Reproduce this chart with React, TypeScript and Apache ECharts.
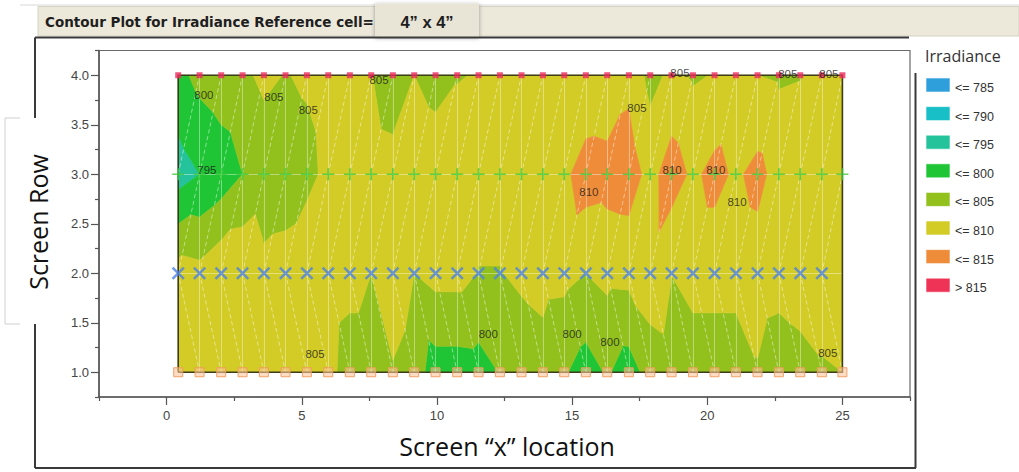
import React, { useEffect, useRef } from "react";
import * as echarts from "echarts";

// ---------- data ----------
const xPositions = [
  0.43, 1.22, 2.02, 2.81, 3.6, 4.4, 5.19, 5.98, 6.78, 7.57, 8.37, 9.16, 9.95, 10.75, 11.54, 12.33,
  13.13, 13.92, 14.71, 15.51, 16.3, 17.1, 17.89, 18.68, 19.47, 20.27, 21.06, 21.86, 22.65, 23.44, 24.24, 25.0,
];
const rowY = [1, 2, 3, 4];
// irradiance at screen row 1 (bottom) .. row 4 (top)
const row1Values = [
  807.5, 807, 808, 808, 808, 808, 807, 807, 802, 802, 804.5, 802.4, 797.6, 797.6, 797.9, 800.2,
  802, 803, 800.5, 797.8, 800.5, 797.7, 802, 803, 802, 802, 802, 804.6, 802, 803, 804.4, 805,
];
const row2Values = [
  807.2, 806.5, 809, 809.4, 806.3, 806.5, 809, 808, 807, 805, 808.5, 805, 806.7, 806.7, 804.8, 804.8,
  805.9, 806.6, 806.4, 805, 806.3, 806.5, 808.2, 805.1, 807, 807, 807, 807.5, 807, 807.8, 808, 808,
];
const row3Values = [
  792.7, 795, 797, 800, 802, 803, 803.5, 806.3, 807.5, 807.5, 807, 807.5, 807, 807, 807.5, 807.5,
  808, 808, 808.9, 812.5, 812, 812.5, 808.3, 812.5, 809, 811.5, 809.2, 811.5, 808, 808, 808, 808,
];
const row4Values = [
  798.5, 801.5, 803, 804, 806, 804.8, 805.6, 807, 807, 805.2, 802, 805, 803.8, 804.8, 805.2, 807,
  807, 807, 807, 805.5, 806, 808.7, 803.5, 806, 804.5, 805.2, 806.5, 805, 804.5, 804.8, 806, 805.2,
];
const rowValues = [row1Values, row2Values, row3Values, row4Values];
const row2MarkerCount = 31; // the X markers stop before the last column

const thresholds = [785, 790, 795, 800, 805, 810, 815];
const bandColors = ["#2F9FDC", "#19BFC7", "#25C39B", "#20C535", "#92C11E", "#D3CC27", "#EE8C39", "#EE3356"];
const bandLabels = ["<= 785", "<= 790", "<= 795", "<= 800", "<= 805", "<= 810", "<= 815", "> 815"];

const contourLabels: [number, number, string][] = [
  [1.38, 3.8, "800"],
  [3.97, 3.78, "805"],
  [5.24, 3.65, "805"],
  [7.86, 3.95, "805"],
  [1.49, 3.04, "795"],
  [17.4, 3.67, "805"],
  [18.99, 4.02, "805"],
  [22.98, 4.01, "805"],
  [24.5, 4.01, "805"],
  [18.7, 3.04, "810"],
  [20.32, 3.04, "810"],
  [15.62, 2.82, "810"],
  [21.1, 2.72, "810"],
  [11.9, 1.39, "800"],
  [15.0, 1.39, "800"],
  [16.4, 1.31, "800"],
  [5.49, 1.18, "805"],
  [24.46, 1.19, "805"],
];

const xTickValues = [0, 5, 10, 15, 20, 25];
const xMinorTicks = [-2.5, 2.5, 7.5, 12.5, 17.5, 22.5, 27.5];
const yTickValues = [1, 1.5, 2, 2.5, 3, 3.5, 4];
const yMinorTicks = [0.75, 1.25, 1.75, 2.25, 2.75, 3.25, 3.75, 4.25];

// ---------- contour geometry (marching triangles, linear interpolation) ----------
type P = [number, number, number];

function clip(poly: P[], level: number, keepAbove: boolean): P[] {
  const out: P[] = [];
  for (let i = 0; i < poly.length; i++) {
    const a = poly[i];
    const b = poly[(i + 1) % poly.length];
    const ina = keepAbove ? a[2] >= level : a[2] <= level;
    const inb = keepAbove ? b[2] >= level : b[2] <= level;
    if (ina) out.push(a);
    if (ina !== inb) {
      const t = (level - a[2]) / (b[2] - a[2]);
      out.push([a[0] + t * (b[0] - a[0]), a[1] + t * (b[1] - a[1]), level]);
    }
  }
  return out;
}

function buildTriangles(): P[][] {
  const tris: P[][] = [];
  const pt = (k: number, r: number): P => [xPositions[k], rowY[r], rowValues[r][k]];
  for (let r = 0; r < rowY.length - 1; r++) {
    for (let k = 0; k < xPositions.length - 1; k++) {
      if (r === 0) {
        tris.push([pt(k, 0), pt(k + 1, 0), pt(k, 1)]);
        tris.push([pt(k + 1, 0), pt(k + 1, 1), pt(k, 1)]);
      } else {
        tris.push([pt(k, r), pt(k + 1, r), pt(k + 1, r + 1)]);
        tris.push([pt(k, r), pt(k + 1, r + 1), pt(k, r + 1)]);
      }
    }
  }
  return tris;
}

function buildBandPolygons() {
  const polys: { band: number; pts: P[] }[] = [];
  for (const tri of buildTriangles()) {
    for (let b = 0; b < bandColors.length; b++) {
      let poly: P[] = tri;
      if (b > 0) poly = clip(poly, thresholds[b - 1], true);
      if (poly.length >= 3 && b < thresholds.length) poly = clip(poly, thresholds[b], false);
      if (poly.length >= 3) polys.push({ band: b, pts: poly });
    }
  }
  return polys;
}

function buildMeshLines() {
  const solid: { coords: number[][] }[] = [];
  const dashed: { coords: number[][] }[] = [];
  for (let k = 0; k < xPositions.length; k++) {
    solid.push({ coords: [[xPositions[k], rowY[0]], [xPositions[k], rowY[rowY.length - 1]]] });
  }
  for (let r = 1; r < rowY.length - 1; r++) {
    solid.push({ coords: [[xPositions[0], rowY[r]], [xPositions[xPositions.length - 1], rowY[r]]] });
  }
  for (let r = 0; r < rowY.length - 1; r++) {
    for (let k = 0; k < xPositions.length - 1; k++) {
      if (r === 0) dashed.push({ coords: [[xPositions[k], rowY[1]], [xPositions[k + 1], rowY[0]]] });
      else dashed.push({ coords: [[xPositions[k], rowY[r]], [xPositions[k + 1], rowY[r + 1]]] });
    }
  }
  return { solid, dashed };
}

const TICK_FONT = "'Liberation Sans', Arial, sans-serif";
const BAR_FONT = "'DejaVu Sans', Verdana, sans-serif";
const TITLE_FONT = "'Open Sans', 'Noto Sans', sans-serif";

export default function App() {
  const ref = useRef<HTMLDivElement>(null);

  useEffect(() => {
    if (!ref.current) return;
    const chart = echarts.init(ref.current, undefined, { renderer: "svg" });
    const polys = buildBandPolygons();
    const mesh = buildMeshLines();
    const x0 = xPositions[0];
    const x1 = xPositions[xPositions.length - 1];

    const legendChildren: any[] = [];
    bandLabels.forEach((lab, i) => {
      legendChildren.push({
        type: "rect",
        shape: { x: 926, y: 78 + i * 28.6, width: 24, height: 14 },
        style: { fill: bandColors[i], stroke: "rgba(255,255,255,0.6)", lineWidth: 1 },
      });
      legendChildren.push({
        type: "text",
        style: {
          x: 955,
          y: 88 + i * 28.6,
          text: lab,
          fill: "#333",
          font: `12.5px ${TICK_FONT}`,
          textVerticalAlign: "middle",
          verticalAlign: "middle",
        },
      });
    });

    const option: any = {
      animation: false,
      backgroundColor: "#ffffff",
      grid: {
        left: 99,
        top: 50.5,
        width: 811,
        height: 346.5,
        show: true,
        borderColor: "#6a6a6a",
        borderWidth: 1.2,
        backgroundColor: "#ffffff",
        containLabel: false,
      },
      xAxis: [
        {
          type: "value",
          min: -2.5,
          max: 27.5,
          position: "bottom",
          axisLine: { show: true, onZero: false, lineStyle: { color: "#555", width: 1.5 } },
          axisTick: { show: true, customValues: xTickValues, length: 8, lineStyle: { color: "#555", width: 1.2 } },
          axisLabel: {
            show: true,
            customValues: xTickValues,
            margin: 12,
            fontSize: 13,
            color: "#444",
            fontFamily: TICK_FONT,
          },
          splitLine: { show: false },
        },
        {
          type: "value",
          min: -2.5,
          max: 27.5,
          position: "bottom",
          axisLine: { show: false, onZero: false },
          axisTick: { show: true, customValues: xMinorTicks, length: 4, lineStyle: { color: "#555", width: 1.2 } },
          axisLabel: { show: false },
          splitLine: { show: false },
        },
      ],
      yAxis: [
        {
          type: "value",
          min: 0.75,
          max: 4.25,
          position: "left",
          axisLine: { show: true, onZero: false, lineStyle: { color: "#555", width: 1.5 } },
          axisTick: { show: true, customValues: yTickValues, length: 8, lineStyle: { color: "#555", width: 1.2 } },
          axisLabel: {
            show: true,
            customValues: yTickValues,
            margin: 10,
            fontSize: 13,
            color: "#444",
            fontFamily: TICK_FONT,
            formatter: (v: number) => v.toFixed(1),
          },
          splitLine: { show: false },
        },
        {
          type: "value",
          min: 0.75,
          max: 4.25,
          position: "left",
          axisLine: { show: false, onZero: false },
          axisTick: { show: true, customValues: yMinorTicks, length: 4, lineStyle: { color: "#555", width: 1.2 } },
          axisLabel: { show: false },
          splitLine: { show: false },
        },
      ],
      graphic: [
        // title bar
        { type: "line", shape: { x1: 20, y1: 5, x2: 1019, y2: 5 }, style: { stroke: "#d8d8d8", lineWidth: 1 } },
        { type: "rect", shape: { x: 38, y: 6.5, width: 981, height: 29.5 }, style: { fill: "#ECE8DA", stroke: "#d5d2c4", lineWidth: 1 } },
        {
          type: "text",
          style: {
            x: 45,
            y: 22,
            text: "Contour Plot for Irradiance Reference cell=",
            fill: "#1e1e1e",
            font: `bold 13.5px ${BAR_FONT}`,
            textVerticalAlign: "middle",
            verticalAlign: "middle",
          },
        },
        {
          type: "rect",
          shape: { x: 375, y: 3.5, width: 104, height: 33.5 },
          style: { fill: "#E8E4D6", shadowBlur: 4, shadowColor: "rgba(0,0,0,0.35)", shadowOffsetY: 1 },
        },
        {
          type: "text",
          style: {
            x: 427,
            y: 22,
            text: "4” x 4”",
            fill: "#1e1e1e",
            font: `bold 16.5px ${TICK_FONT}`,
            align: "center",
            textAlign: "center",
            textVerticalAlign: "middle",
            verticalAlign: "middle",
          },
        },
        // outer frame
        { type: "line", shape: { x1: 35, y1: 37.5, x2: 909, y2: 37.5 }, style: { stroke: "#3a3a3a", lineWidth: 2 } },
        { type: "line", shape: { x1: 35, y1: 37.5, x2: 35, y2: 468 }, style: { stroke: "#3a3a3a", lineWidth: 2 } },
        { type: "line", shape: { x1: 35, y1: 468, x2: 916, y2: 468 }, style: { stroke: "#3a3a3a", lineWidth: 2 } },
        { type: "line", shape: { x1: 915.5, y1: 73, x2: 915.5, y2: 468 }, style: { stroke: "#3a3a3a", lineWidth: 2 } },
        // y-title box
        { type: "rect", shape: { x: 5, y: 118, width: 38, height: 206 }, style: { fill: "#ffffff" } },
        {
          type: "polyline",
          shape: { points: [[20, 118], [5, 118], [5, 324], [20, 324]] },
          style: { stroke: "#d0d0d0", lineWidth: 1, fill: null },
        },
        {
          type: "text",
          x: 38,
          y: 222,
          rotation: Math.PI / 2,
          style: {
            x: 0,
            y: 0,
            text: "Screen Row",
            fill: "#111",
            font: `25px ${TITLE_FONT}`,
            align: "center",
            textAlign: "center",
            textVerticalAlign: "middle",
            verticalAlign: "middle",
          },
        },
        {
          type: "text",
          style: {
            x: 507,
            y: 446,
            text: "Screen “x” location",
            fill: "#111",
            font: `25px ${TITLE_FONT}`,
            align: "center",
            textAlign: "center",
            textVerticalAlign: "middle",
            verticalAlign: "middle",
          },
        },
        // legend
        {
          type: "text",
          style: {
            x: 925,
            y: 56,
            text: "Irradiance",
            fill: "#333",
            font: `16px ${TITLE_FONT}`,
            textVerticalAlign: "middle",
            verticalAlign: "middle",
          },
        },
        ...legendChildren,
      ],
      series: [
        {
          type: "custom",
          coordinateSystem: "cartesian2d",
          xAxisIndex: 0,
          yAxisIndex: 0,
          z: 1,
          silent: true,
          encode: { x: 0, y: 1 },
          data: polys.map((p, i) => [p.pts[0][0], p.pts[0][1], i]),
          renderItem: (params: any, api: any) => {
            const poly = polys[params.dataIndex];
            const points = poly.pts.map((q) => api.coord([q[0], q[1]]));
            const c = bandColors[poly.band];
            return {
              type: "polygon",
              shape: { points },
              style: { fill: c, stroke: c, lineWidth: 0.7 },
            };
          },
        },
        {
          type: "lines",
          coordinateSystem: "cartesian2d",
          xAxisIndex: 0,
          yAxisIndex: 0,
          z: 2,
          silent: true,
          lineStyle: { color: "rgba(255,255,255,0.38)", width: 1, type: "solid", opacity: 1 },
          data: mesh.solid,
        },
        {
          type: "lines",
          coordinateSystem: "cartesian2d",
          xAxisIndex: 0,
          yAxisIndex: 0,
          z: 2,
          silent: true,
          lineStyle: { color: "rgba(255,255,255,0.45)", width: 1, type: [4, 3], opacity: 1 },
          data: mesh.dashed,
        },
        {
          type: "lines",
          coordinateSystem: "cartesian2d",
          polyline: true,
          xAxisIndex: 0,
          yAxisIndex: 0,
          z: 3,
          silent: true,
          lineStyle: { color: "#3d3d1c", width: 1.6, opacity: 1 },
          data: [{ coords: [[x0, 1], [x1, 1], [x1, 4], [x0, 4], [x0, 1]] }],
        },
        {
          type: "scatter",
          z: 4,
          silent: true,
          symbol: "rect",
          symbolSize: [9, 9],
          itemStyle: { color: "rgba(250,195,150,0.65)", borderColor: "#F29A5C", borderWidth: 1, opacity: 0.9 },
          data: xPositions.map((x) => [x, rowY[0]]),
        },
        {
          type: "scatter",
          z: 4,
          silent: true,
          symbol: "path://M4.2,0H5.8V10H4.2Z M0,4.2H10V5.8H0Z",
          symbolSize: 16,
          symbolRotate: 45,
          itemStyle: { color: "#4C82E6" },
          data: xPositions.slice(0, row2MarkerCount).map((x) => [x, rowY[1]]),
        },
        {
          type: "scatter",
          z: 4,
          silent: true,
          symbol: "path://M4.3,0H5.7V10H4.3Z M0,4.3H10V5.7H0Z",
          symbolSize: 12,
          itemStyle: { color: "#3CCB3C" },
          data: xPositions.map((x) => [x, rowY[2]]),
        },
        {
          type: "scatter",
          z: 4,
          silent: true,
          symbol: "rect",
          symbolSize: [6, 6],
          itemStyle: { color: "#EE2B5B" },
          data: xPositions.map((x) => [x, rowY[3]]),
        },
        {
          type: "scatter",
          z: 5,
          silent: true,
          symbolSize: 1,
          itemStyle: { color: "rgba(0,0,0,0)" },
          label: {
            show: true,
            position: "inside",
            formatter: (p: any) => p.data[2],
            fontSize: 11.5,
            color: "#1a1a1a",
            fontFamily: TICK_FONT,
          },
          data: contourLabels,
        },
      ],
    };
    chart.setOption(option);
    return () => chart.dispose();
  }, []);

  return (
    <div
      ref={ref}
      style={{ position: "absolute", left: 0, top: 0, width: 1019, height: 472, background: "#fff" }}
    />
  );
}
